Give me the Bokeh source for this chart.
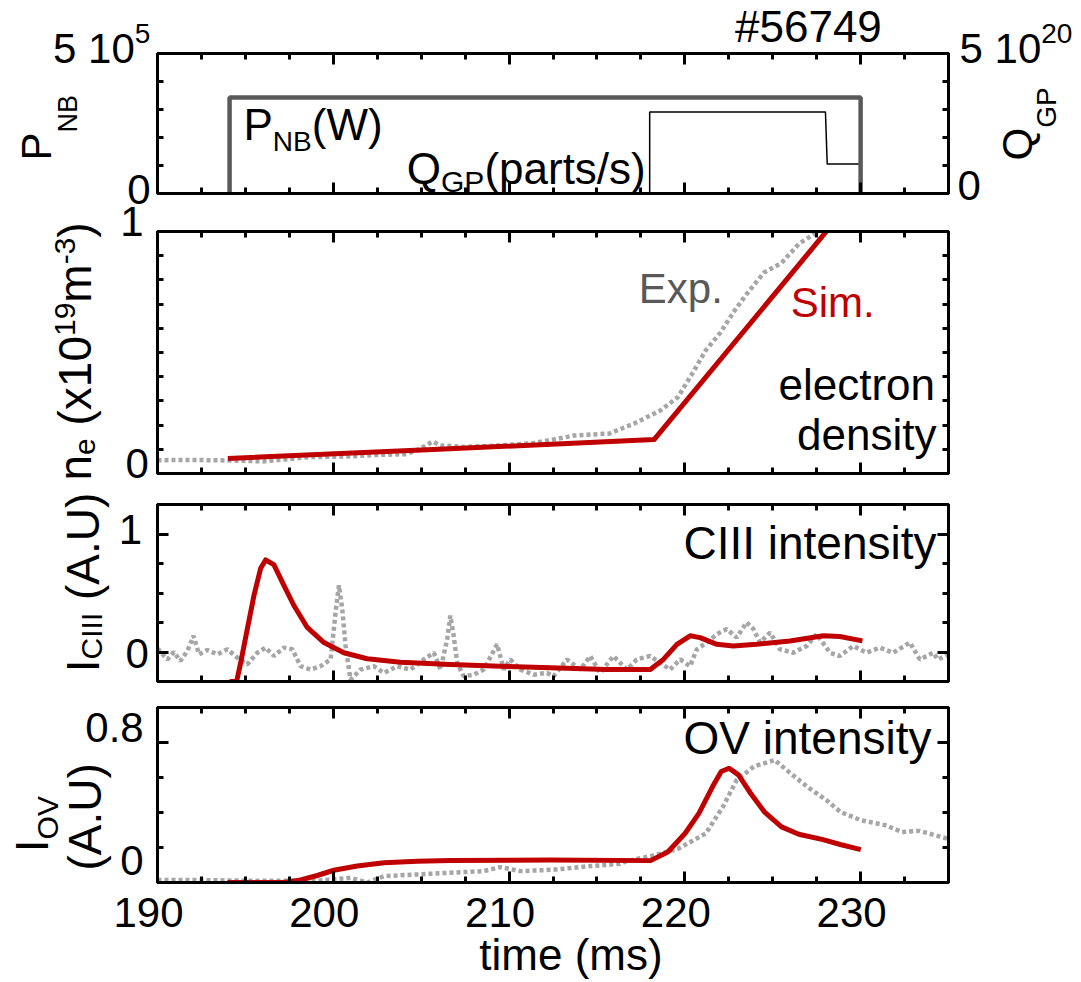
import math
from bokeh.plotting import figure
from bokeh.layouts import column, row
from bokeh.models import Range1d, LinearAxis, FixedTicker, Label
from bokeh.core.properties import value
from bokeh.embed import file_html
from bokeh.resources import INLINE

# ---------------- data ----------------
x_major = [190, 200, 210, 220, 230]
x_minor = [190 + 2.5 * k for k in range(19) if (2.5 * k) % 10 != 0]
x_labels = ["190", "200", "210", "220", "230"]

# panel 1: NBI power (W) and gas puff rate (parts/s)
pnb_t = [194.1, 194.1, 230.0, 230.0]
pnb_w = [0.0, 3.43e5, 3.43e5, 0.0]
qgp_t = [190.0, 218.0, 218.0, 228.0, 228.1, 230.0, 230.0, 235.0]
qgp_v = [0.0, 0.0, 2.91e20, 2.91e20, 1.05e20, 1.05e20, 0.0, 0.0]

# panel 2: electron density (1e19 m^-3)
ne_exp_t = [190, 192, 194, 196, 198.7, 200.7, 202.6, 204.2, 205.0, 205.65, 206.1, 207.5,
            209.5, 211.4, 212.5, 213.7, 215.7, 217.1, 218.6, 219.6, 220.4, 221.2, 222.0,
            222.8, 223.5, 224.5, 225.5, 226.5, 227.5, 228.5]
ne_exp = [0.055, 0.056, 0.054, 0.05, 0.068, 0.07, 0.077, 0.08, 0.105, 0.132, 0.116, 0.11,
          0.116, 0.126, 0.14, 0.157, 0.165, 0.206, 0.26, 0.315, 0.41, 0.51, 0.58,
          0.67, 0.74, 0.83, 0.87, 0.95, 0.996, 1.06]
ne_sim_t = [194.0, 206.0, 218.25, 228.05, 230.0]
ne_sim = [0.062, 0.1, 0.14, 1.0, 1.17]

# panel 3: CIII intensity (A.U)
ciii_exp_t = [190.0, 190.2, 190.57, 190.94, 191.3, 191.7, 192.05, 192.36, 192.84, 193.4,
              193.98, 194.55, 195.1, 195.68, 196.15, 196.63, 197.19, 197.67, 198.14, 198.71,
              199.28, 199.85, 200.13, 200.32, 200.51, 200.7, 200.98, 201.55, 202.3, 202.88,
              203.64, 204.39, 205.15, 205.72, 206.1, 206.48, 206.66, 206.85, 207.05, 207.42,
              207.99, 208.56, 209.32, 209.7, 210.07, 210.64, 211.4, 212.16, 212.53, 213.3,
              214.05, 214.62, 215.19, 215.94, 216.7, 217.27, 218.03, 218.6, 219.16, 219.73,
              220.3, 220.68, 221.25, 221.82, 222.39, 222.95, 223.52, 223.9, 224.28, 224.85,
              225.41, 226.17, 226.93, 227.5, 228.26, 228.82, 229.58, 230.34, 231.1, 231.85,
              232.8, 233.37, 234.13, 234.4, 235.0]
ciii_exp = [0.03, -0.006, -0.063, 0.0, -0.077, 0.009, 0.137, -0.02, 0.017, -0.02,
            0.023, -0.049, -0.106, -0.006, 0.037, -0.034, 0.037, 0.023, -0.12, -0.149,
            -0.12, -0.063, 0.336, 0.565, 0.365, 0.051, -0.235, -0.149, -0.12, -0.177,
            -0.12, -0.149, -0.063, -0.006, -0.149, 0.108, 0.308, 0.137, -0.092, -0.206,
            -0.192, -0.149, 0.065, -0.149, -0.063, -0.149, -0.192, -0.177, -0.206, -0.063,
            -0.149, -0.034, -0.177, -0.034, -0.149, -0.063, -0.034, -0.092, -0.149, -0.063,
            -0.12, 0.023, 0.08, 0.151, 0.194, 0.122, 0.251, 0.194, 0.08, 0.165,
            0.023, -0.006, 0.051, 0.151, -0.006, -0.034, 0.051, -0.006, 0.037, -0.006,
            0.08, -0.063, -0.006, -0.063, -0.02]
ciii_sim_t = [194.1, 194.5, 194.73, 195.11, 195.49, 195.87, 196.15, 196.62, 197.19, 197.76,
              198.52, 199.47, 200.6, 201.93, 203.82, 206.66, 209.5, 212.35, 215.57, 218.03,
              218.78, 219.55, 220.3, 220.87, 221.82, 222.76, 224.09, 225.98, 227.88, 228.82,
              230.1]
ciii_sim = [-0.25, -0.25, -0.092, 0.194, 0.48, 0.71, 0.78, 0.74, 0.565, 0.394,
            0.208, 0.08, -0.006, -0.057, -0.086, -0.106, -0.12, -0.134, -0.149, -0.149,
            -0.063, 0.065, 0.137, 0.122, 0.065, 0.051, 0.065, 0.094, 0.137, 0.131,
            0.094]

# panel 4: OV intensity (A.U)
ov_exp_t = [190.0, 191.51, 195.3, 199.09, 200.98, 201.93, 202.88, 204.77, 206.66, 208.56,
            209.5, 210.64, 212.53, 214.43, 216.32, 216.68, 218.25, 219.62, 221.19, 222.17,
            222.95, 223.93, 225.11, 225.89, 227.07, 228.05, 228.84, 230.01, 231.39, 232.36,
            233.35, 234.92]
ov_exp = [0.015, 0.015, 0.01, 0.01, 0.027, 0.0, 0.036, 0.046, 0.056, 0.065,
          0.088, 0.065, 0.073, 0.092, 0.107, 0.122, 0.155, 0.193, 0.28, 0.433,
          0.586, 0.663, 0.70, 0.634, 0.539, 0.471, 0.404, 0.356, 0.328, 0.289,
          0.295, 0.251]
ov_sim_t = [193.98, 197.19, 198.14, 199.09, 200.03, 201.36, 202.88, 204.77, 206.66, 212.35,
            218.05, 219.03, 220.01, 220.8, 221.58, 222.07, 222.52, 223.05, 223.74, 224.52,
            225.5, 226.48, 227.86, 228.84, 230.01]
ov_sim = [0.0, 0.0, 0.015, 0.04, 0.07, 0.094, 0.113, 0.122, 0.126, 0.128,
          0.125, 0.174, 0.28, 0.395, 0.548, 0.634, 0.653, 0.615, 0.51, 0.404,
          0.318, 0.276, 0.245, 0.217, 0.188]

# ---------------- style / layout ----------------
FONT = "Liberation Sans"
RED = "#C00000"
GREY = "#A6A6A6"
DARK = "#595959"
X0, X1 = 190, 235
FRAME_W = 791
PAD = 3             # border kept around each data frame so the outline is not cut
LEFT_W = 154        # left text column (page x 0..154)
RIGHT_W = 128       # right text column
TOP_STRIP = 52      # strip above the first panel
TOP_H = 884         # height of the row holding the four panels
BOTTOM_H = 96       # strip with the time axis labels
FRAME_L = LEFT_W + PAD
PX_PER_MS = FRAME_W / (X1 - X0)
BASE_K = 0.37       # measured drop of the drawn baseline, in em, corrected here

W = {' ': 0.278, '#': 0.556, '(': 0.333, ')': 0.333, '-': 0.333, '.': 0.278, '/': 0.278,
     'A': 0.667, 'B': 0.667, 'C': 0.722, 'E': 0.667, 'G': 0.778, 'I': 0.278, 'N': 0.722,
     'O': 0.778, 'P': 0.667, 'Q': 0.778, 'S': 0.667, 'U': 0.722, 'V': 0.667, 'W': 0.944,
     'a': 0.556, 'c': 0.5, 'd': 0.556, 'e': 0.556, 'i': 0.222, 'l': 0.222, 'm': 0.833,
     'n': 0.556, 'o': 0.556, 'p': 0.556, 'r': 0.333, 's': 0.5, 't': 0.278, 'x': 0.5, 'y': 0.5}


def adv(s, size):
    return sum(W.get(c, 0.556) for c in s) * size


def rich(p, origin, X, Y, runs, angle=0.0, color="black", align="left"):
    """Place text pieces (text, size, baseline shift) with the baseline at page point X, Y."""
    x = X - origin[0]
    y = origin[1] - Y
    total = sum(adv(t, s) for t, s, _ in runs)
    ca, sa = math.cos(angle), math.sin(angle)
    pos = 0.0 if align == "left" else (-total if align == "right" else -total / 2)
    for text, size, shift in runs:
        lead = len(text) - len(text.lstrip(" "))
        pos += lead * W[' '] * size
        txt = text.lstrip(" ")
        up = shift + BASE_K * size
        lx = x + pos * ca - up * sa
        ly = y + pos * sa + up * ca
        p.add_layout(Label(x=lx, y=ly, x_units="screen", y_units="screen", text=txt,
                           angle=angle, text_font=FONT, text_font_size=f"{size}px",
                           text_color=color, text_align="left", text_baseline="alphabetic"))
        pos += adv(txt, size)


def text_fig(w, h, xr=None, yr=None):
    f = figure(frame_width=w, frame_height=h,
               x_range=xr if xr is not None else Range1d(0, 1),
               y_range=yr if yr is not None else Range1d(0, 1),
               x_axis_type=None, y_axis_type=None, output_backend="svg", toolbar_location=None,
               min_border_left=0, min_border_right=0, min_border_top=0, min_border_bottom=0)
    f.outline_line_color = None
    f.background_fill_color = "white"
    f.border_fill_color = "white"
    return f


def make_fig(frame_h, b_top, b_bot, yr):
    p = figure(frame_width=FRAME_W, frame_height=frame_h, x_range=Range1d(X0, X1), y_range=yr,
               x_axis_type=None, y_axis_type=None, output_backend="svg", toolbar_location=None,
               min_border_left=PAD, min_border_right=PAD, min_border_top=b_top,
               min_border_bottom=b_bot)
    p.outline_line_color = "black"
    p.outline_line_width = 3
    p.background_fill_color = "white"
    p.border_fill_color = "white"
    return p


def add_axis(p, side, ticks, minor, range_name=None):
    # ticks only: the tick texts are set as text beside the frames
    ax = LinearAxis(ticker=FixedTicker(ticks=ticks, minor_ticks=minor))
    if range_name:
        ax.y_range_name = range_name
    ax.axis_line_color = "black"
    ax.axis_line_width = 3
    ax.major_tick_in = 11
    ax.major_tick_out = 0
    ax.minor_tick_in = 6
    ax.minor_tick_out = 0
    ax.major_tick_line_width = 3
    ax.minor_tick_line_width = 3
    ax.major_tick_line_color = "black"
    ax.minor_tick_line_color = "black"
    ax.major_label_overrides = {t: "" for t in ticks}
    ax.major_label_text_font_size = "1px"
    ax.major_label_text_alpha = 0
    ax.major_label_standoff = 0
    p.add_layout(ax, side)
    return ax


def box_axes(p, yt, ym, y2t=None, y2m=None, range_name=None):
    add_axis(p, "above", x_major, x_minor)
    add_axis(p, "below", x_major, x_minor)
    add_axis(p, "left", yt, ym)
    if range_name:
        add_axis(p, "right", y2t, y2m, range_name=range_name)
    else:
        add_axis(p, "right", yt, ym)


# text columns and strips (page origin at 0,0)
L = text_fig(LEFT_W, TOP_H)
R = text_fig(RIGHT_W, TOP_H)
T = text_fig(FRAME_W + 2 * PAD, TOP_STRIP)
LO = (0, TOP_H)
RO = (FRAME_L + FRAME_W + PAD, TOP_H)
TO = (LEFT_W, TOP_STRIP)
page_w = LEFT_W + FRAME_W + 2 * PAD + RIGHT_W
B = text_fig(page_w, BOTTOM_H,
             xr=Range1d(X0 - FRAME_L / PX_PER_MS, X0 + (page_w - FRAME_L) / PX_PER_MS),
             yr=Range1d(0, BOTTOM_H))
BO = (0, TOP_H + BOTTOM_H)

# ---------------- panel 1 ----------------
p1 = make_fig(140, 53 - TOP_STRIP, 19, Range1d(0, 5e5))
p1.extra_y_ranges = {"q": Range1d(0, 5e20)}
box_axes(p1, [0, 5e5], [1e5, 2e5, 3e5, 4e5], [0, 5e20], [1e20, 2e20, 3e20, 4e20], "q")
p1.line(qgp_t, qgp_v, y_range_name="q", line_color="black", line_width=1.5)
p1.line(pnb_t, pnb_w, line_color=DARK, line_width=4.5)
O1 = (FRAME_L, 193)
rich(p1, O1, 243, 140, [("P", 44, 0), ("NB", 28, -11.7), ("(W)", 44, 0)])
rich(p1, O1, 406.3, 184, [("Q", 44, 0), ("GP", 30, -8), ("(parts/s)", 44, 0)])
rich(T, TO, 731.5, 42.3, [("#56749", 44, 0)])
rich(L, LO, 52.5, 63.3, [("5 10", 42, 0), ("5", 28, 20)])
rich(L, LO, 150, 205, [("0", 42, 0)], align="right")
rich(L, LO, 52, 160, [("P", 42, 0), ("NB", 27, -25)], angle=math.pi / 2)
rich(R, RO, 959, 63.3, [("5 10", 42, 0), ("20", 28, 20)])
rich(R, RO, 957, 201, [("0", 42, 0)])
rich(R, RO, 1033, 160, [("Q", 42, 0), ("GP", 28, -23)], angle=math.pi / 2)

# ---------------- panel 2 ----------------
p2 = make_fig(242, 19, 14, Range1d(0, 1))
box_axes(p2, [0, 1], [0.1 * k for k in range(1, 10)])
p2.line(ne_exp_t, ne_exp, line_color=GREY, line_width=4.5, line_dash="4 3")
p2.line(ne_sim_t, ne_sim, line_color=RED, line_width=5, line_join="round")
O2 = (FRAME_L, 473)
rich(p2, O2, 638.3, 303.3, [("Exp.", 42, 0)], color=DARK)
rich(p2, O2, 790.2, 317.3, [("Sim.", 42, 0)], color=RED)
rich(p2, O2, 934.5, 400, [("electron", 44, 0)], align="right")
rich(p2, O2, 936, 450, [("density", 44, 0)], align="right")
rich(L, LO, 143, 236.7, [("1", 42, 0)], align="right")
rich(L, LO, 148.3, 479, [("0", 42, 0)], align="right")
rich(L, LO, 91.5, 480, [("n", 46, 0), ("e", 30, -4), (" (x10", 46, 0), ("19", 30, 15.5),
                        ("m", 46, 0), ("-3", 30, 15.5), (")", 46, 0)], angle=math.pi / 2)

# ---------------- panel 3 ----------------
p3 = make_fig(177, 17, 13, Range1d(-0.25, 1.25))
box_axes(p3, [0, 1], [0.25, 0.5, 0.75])
p3.line(ciii_exp_t, ciii_exp, line_color=GREY, line_width=4.5, line_dash="4 3")
p3.line(ciii_sim_t, ciii_sim, line_color=RED, line_width=5, line_join="round")
O3 = (FRAME_L, 681)
rich(p3, O3, 936, 560, [("CIII intensity", 46, 0)], align="right")
rich(L, LO, 141.5, 545, [("1", 42, 0)], align="right")
rich(L, LO, 148.3, 669, [("0", 42, 0)], align="right")
rich(L, LO, 100, 671.7, [("I", 46, 0), ("CIII", 30, -2), (" (A.U)", 46, 0)], angle=math.pi / 2)

# ---------------- panel 4 ----------------
p4 = make_fig(175, 13, TOP_H - 882, Range1d(0, 1.0))
box_axes(p4, [0, 0.8], [0.2, 0.4, 0.6])
p4.line(ov_exp_t, ov_exp, line_color=GREY, line_width=4.5, line_dash="4 3")
p4.line(ov_sim_t, ov_sim, line_color=RED, line_width=5, line_join="round")
O4 = (FRAME_L, 882)
rich(p4, O4, 931, 755, [("OV intensity", 46, 0)], align="right")
rich(L, LO, 143.2, 743, [("0.8", 42, 0)], align="right")
rich(L, LO, 143, 876, [("0", 42, 0)], align="right")
rich(L, LO, 48.2, 851.7, [("I", 46, 0), ("OV", 30, -10)], angle=math.pi / 2)
rich(L, LO, 102, 870, [("(A.U)", 46, 0)], angle=math.pi / 2)

# time axis labels, placed on the same time scale as the panels
B.text(x=x_major, y=[TOP_H + BOTTOM_H - 928 + BASE_K * 42] * len(x_major), text=x_labels,
       text_font=value(FONT), text_font_size=value("42px"), text_color="black",
       text_align="center", text_baseline="alphabetic", x_offset=-9)
rich(B, BO, 570.5, 970, [("time (ms)", 44, 0)], align="center")

layout = column(row(L, column(T, p1, p2, p3, p4), R), B)
open("out.html", "w").write(file_html(layout, INLINE))
